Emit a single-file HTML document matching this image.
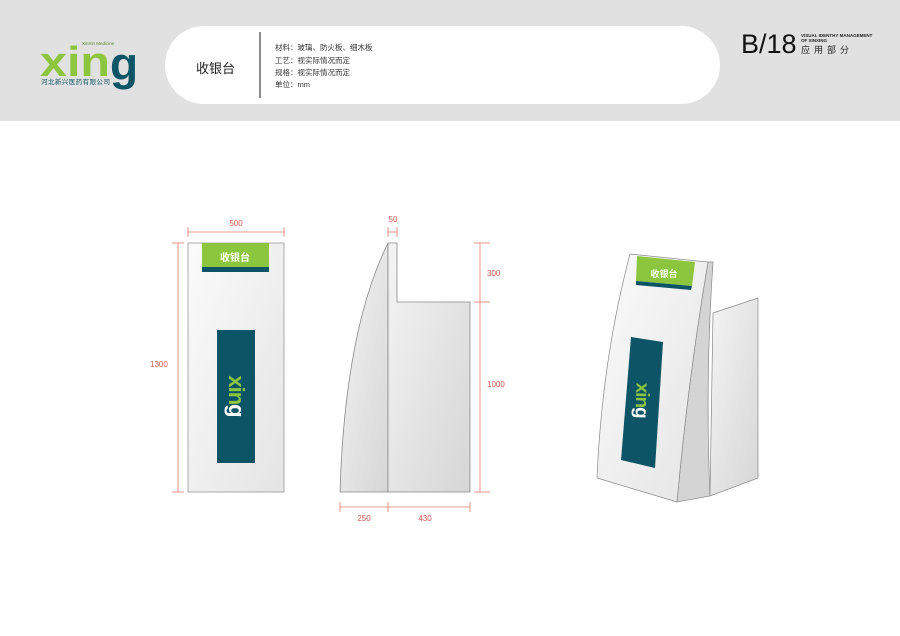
<!DOCTYPE html>
<html><head><meta charset="utf-8"><style>
html,body{margin:0;padding:0;background:#fff;}
svg{display:block;font-family:"Liberation Sans","Noto Sans CJK SC",sans-serif;}
</style></head><body>
<svg width="900" height="636" viewBox="0 0 900 636" xmlns="http://www.w3.org/2000/svg">
<defs>
<linearGradient id="g1" x1="0" y1="0" x2="1" y2="1"><stop offset="0" stop-color="#fbfbfb"/><stop offset="1" stop-color="#e4e4e4"/></linearGradient>
<linearGradient id="g2" x1="0" y1="0" x2="1" y2="1"><stop offset="0" stop-color="#f4f4f4"/><stop offset="1" stop-color="#d6d6d6"/></linearGradient>
</defs>
<rect x="0" y="0" width="900" height="121" fill="#e1e1e1"/>
<rect x="165" y="26" width="555" height="78" rx="39" fill="#fff"/>
<line x1="260" y1="32" x2="260" y2="98" stroke="#666" stroke-width="1.5"/>
<text x="196" y="73" font-size="13" fill="#222">收银台</text>
<g font-size="7.5" fill="#333">
<text x="275" y="50">材料：玻璃、防火板、细木板</text>
<text x="275" y="63">工艺：视实际情况而定</text>
<text x="275" y="75">规格：视实际情况而定</text>
<text x="275" y="87">单位：mm</text>
</g>
<!-- logo -->
<text x="40" y="76" font-size="42" font-weight="bold" fill="#8cc63f" textLength="70" lengthAdjust="spacingAndGlyphs">xin</text>
<text x="110" y="80" font-size="46" font-weight="bold" fill="#0d5466">g</text>
<text x="82" y="45" font-size="4.5" fill="#5a8a2a">XinXin Medicine</text>
<text x="41" y="84" font-size="6.5" fill="#0d5466" textLength="69">河北新兴医药有限公司</text>
<text x="741" y="53" font-size="27" fill="#111">B/18</text>
<text x="801" y="37" font-size="4.5" font-weight="bold" fill="#222">VISUAL IDENTHY MANAGEMENT</text>
<text x="801" y="42" font-size="4.5" font-weight="bold" fill="#222">OF XINXING</text>
<text x="801" y="53" font-size="9" fill="#222" letter-spacing="4">应用部分</text>
<!-- dims -->
<g stroke="#e07b6e" stroke-width="0.8" fill="none">
<line x1="188" y1="232" x2="284" y2="232"/><line x1="188" y1="227" x2="188" y2="237"/><line x1="284" y1="227" x2="284" y2="237"/>
<line x1="178" y1="243" x2="178" y2="492"/><line x1="172" y1="243" x2="184" y2="243"/><line x1="172" y1="492" x2="184" y2="492"/>
<line x1="388" y1="232" x2="397" y2="232"/><line x1="388" y1="227" x2="388" y2="237"/><line x1="397" y1="227" x2="397" y2="237"/>
<line x1="480" y1="243" x2="480" y2="492"/><line x1="474" y1="243" x2="490" y2="243"/><line x1="474" y1="302" x2="490" y2="302"/><line x1="474" y1="492" x2="490" y2="492"/>
<line x1="340" y1="507" x2="470" y2="507"/><line x1="340" y1="502" x2="340" y2="512"/><line x1="388" y1="502" x2="388" y2="512"/><line x1="470" y1="502" x2="470" y2="512"/>
</g>
<g font-size="8" fill="#d0584a">
<text x="236" y="226" text-anchor="middle">500</text>
<text x="150" y="367">1300</text>
<text x="393" y="222" text-anchor="middle">50</text>
<text x="487" y="276">300</text>
<text x="487" y="387">1000</text>
<text x="364" y="521" text-anchor="middle">250</text>
<text x="425" y="521" text-anchor="middle">430</text>
</g>
<rect x="188" y="243" width="96" height="249" fill="url(#g1)" stroke="#999" stroke-width="0.8"/>
<rect x="202" y="243" width="67" height="24" fill="#8cc63f"/>
<rect x="202" y="267" width="67" height="5" fill="#0d5466"/>
<text x="235" y="261" font-size="10" fill="#fff" text-anchor="middle" font-weight="bold">收银台</text>
<rect x="217" y="330" width="38" height="133" fill="#0d5466"/>
<text transform="translate(229,396) rotate(90)" font-size="22" font-weight="bold" fill="#8cc63f" text-anchor="middle" letter-spacing="-1">xin<tspan fill="#fff">g</tspan></text>
<!-- side view -->
<path d="M340,492 Q345,330 388,243 L388,492 Z" fill="url(#g2)" stroke="#888" stroke-width="0.8"/>
<path d="M388,243 L397,243 L397,302 L470,302 L470,492 L388,492 Z" fill="url(#g2)" stroke="#888" stroke-width="0.8"/>
<!-- 3D -->
<path d="M713,313 L758,298 L758,478 L710,496 Z" fill="url(#g2)" stroke="#888" stroke-width="0.7"/>
<path d="M708,262 L713,262 Q705,380 710,496 L677,502 Q688,380 708,262 Z" fill="#d4d4d4" stroke="#888" stroke-width="0.7"/>
<path d="M630,254 L708,262 Q688,380 677,502 L597,478 Q602,360 630,254 Z" fill="url(#g1)" stroke="#888" stroke-width="0.7"/>
<path d="M637,256 L695,262 L692,286 L636,281 Z" fill="#8cc63f"/>
<path d="M636,281 L692,286 L691,290 L636,285 Z" fill="#0d5466"/>
<text x="664" y="277" font-size="9" fill="#fff" text-anchor="middle" font-weight="bold">收银台</text>
<path d="M631,337 L663,342 L655,468 L621,460 Z" fill="#0d5466"/>
<text transform="translate(636,400) rotate(92)" font-size="19" font-weight="bold" fill="#8cc63f" text-anchor="middle" letter-spacing="-1">xin<tspan fill="#fff">g</tspan></text>
</svg>
</body></html>
